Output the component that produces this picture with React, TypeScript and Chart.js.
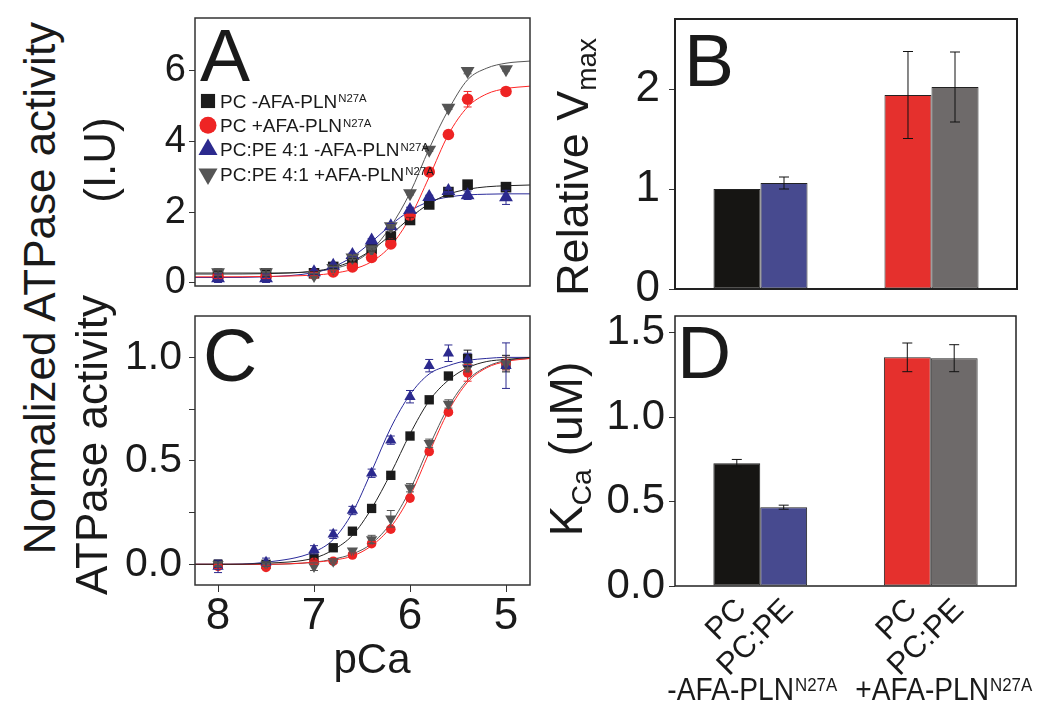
import { useEffect, useRef } from "react";
import { Chart, registerables } from "chart.js";
Chart.register(...registerables);

const FONT = '"Liberation Sans", Arial, Helvetica, sans-serif';
const INK = "#1a1a1a";

// measured pCa values (same for every condition)
const pCa = [8.0, 7.5, 7.0, 6.8, 6.6, 6.4, 6.2, 6.0, 5.8, 5.6, 5.4, 5.0];
const pCaTicks = [8, 7, 6, 5];
const fitPCa = [8.24, 8.0, 7.5, 7.0, 6.8, 6.6, 6.4, 6.2, 6.0, 5.8, 5.6, 5.4, 5.2, 5.0, 4.75];

const seriesNames = ["PC -AFA-PLN", "PC +AFA-PLN", "PC:PE 4:1 -AFA-PLN", "PC:PE 4:1 +AFA-PLN"];
const seriesSup = "N27A";

// panel A: ATPase activity (I.U)
const actBlack = [0.25, 0.27, 0.27, 0.45, 0.64, 0.95, 1.31, 1.78, 2.22, 2.57, 2.78, 2.71];
const actRed = [0.17, 0.17, 0.25, 0.31, 0.45, 0.72, 1.1, 1.92, 3.14, 4.2, 5.2, 5.42];
const actBlue = [0.13, 0.13, 0.3, 0.48, 0.79, 1.2, 1.6, 2.06, 2.43, 2.6, 2.48, 2.42];
const actGray = [0.3, 0.3, 0.22, 0.42, 0.72, 0.95, 1.6, 2.54, 3.77, 4.96, 6.0, 6.05];
const actBlackErr = [0.08, 0.08, 0.05, 0.05, 0.05, 0.05, 0.08, 0.08, 0.05, 0.05, 0.05, 0.05];
const actRedErr = [0.05, 0.05, 0.05, 0.05, 0.05, 0.05, 0.05, 0.05, 0.05, 0.08, 0.22, 0.08];
const actBlueErr = [0.12, 0.12, 0.05, 0.05, 0.05, 0.05, 0.08, 0.08, 0.05, 0.08, 0.12, 0.2];
const actGrayErr = [0.1, 0.1, 0.05, 0.05, 0.05, 0.05, 0.05, 0.05, 0.05, 0.05, 0.08, 0.05];
const actFitBlack = [0.25, 0.25, 0.26, 0.33, 0.43, 0.62, 0.93, 1.36, 1.84, 2.24, 2.51, 2.65, 2.72, 2.75, 2.77];
const actFitRed = [0.17, 0.17, 0.18, 0.22, 0.27, 0.38, 0.6, 1.05, 1.85, 3.0, 4.2, 4.98, 5.35, 5.5, 5.57];
const actFitBlue = [0.15, 0.15, 0.17, 0.29, 0.45, 0.74, 1.16, 1.64, 2.04, 2.3, 2.43, 2.49, 2.51, 2.52, 2.52];
const actFitGray = [0.28, 0.28, 0.28, 0.32, 0.4, 0.57, 0.93, 1.6, 2.55, 3.8, 4.9, 5.75, 6.08, 6.22, 6.28];
const actTicks = [0, 2, 4, 6];

// panel C: normalized activity
const normBlack = [0, 0, 0.03, 0.08, 0.16, 0.27, 0.43, 0.62, 0.795, 0.91, 0.995, 0.97];
const normRed = [-0.01, -0.015, 0.01, 0.015, 0.045, 0.1, 0.17, 0.32, 0.545, 0.735, 0.925, 0.97];
const normBlue = [-0.01, 0.01, 0.07, 0.145, 0.26, 0.44, 0.6, 0.81, 0.96, 1.02, 0.99, 0.96];
const normGray = [0, 0, -0.01, 0.015, 0.065, 0.12, 0.22, 0.37, 0.585, 0.775, 0.95, 0.97];
const normBlackErr = [0.02, 0.01, 0.01, 0.01, 0.01, 0.01, 0.01, 0.01, 0.01, 0.01, 0.04, 0.04];
const normRedErr = [0.01, 0.01, 0.01, 0.01, 0.01, 0.01, 0.01, 0.01, 0.01, 0.01, 0.04, 0.03];
const normBlueErr = [0.03, 0.02, 0.02, 0.02, 0.02, 0.02, 0.02, 0.03, 0.03, 0.04, 0.03, 0.11];
const normGrayErr = [0.01, 0.01, 0.02, 0.01, 0.01, 0.02, 0.04, 0.02, 0.02, 0.02, 0.02, 0.03];
const normFitBlack = [0, 0, 0.005, 0.03, 0.07, 0.14, 0.27, 0.44, 0.63, 0.79, 0.89, 0.95, 0.98, 0.99, 1.0];
const normFitRed = [0, 0, 0, 0.01, 0.02, 0.04, 0.09, 0.18, 0.33, 0.54, 0.74, 0.88, 0.95, 0.98, 0.995];
const normFitBlue = [0, 0, 0.01, 0.06, 0.12, 0.25, 0.45, 0.66, 0.82, 0.92, 0.96, 0.985, 0.995, 1.0, 1.0];
const normFitGray = [0, 0, 0, 0.01, 0.025, 0.05, 0.1, 0.2, 0.36, 0.57, 0.76, 0.89, 0.955, 0.985, 0.995];
const normTicks = [0, 0.25, 0.5, 0.75, 1.0];

// panels B and D: bar groups
const groups = ["-AFA-PLN", "+AFA-PLN"];
const barNames = ["PC", "PC:PE"];
const vmaxPC = [1.0, 1.94];
const vmaxPCPE = [1.06, 2.02];
const vmaxPCErr = [0, 0.435];
const vmaxPCPEErr = [0.06, 0.35];
const vmaxTicks = [0, 1, 2];
const kcaPC = [0.728, 1.355];
const kcaPCPE = [0.467, 1.35];
const kcaPCErr = [0.022, 0.085];
const kcaPCPEErr = [0.012, 0.08];
const kcaTicks = [0, 0.25, 0.5, 0.75, 1.0, 1.25, 1.5];

// styles
const pointStyles = ["rect", "circle", "triangle", "triangle"];
const pointRotations = [0, 0, 0, 180];
const markerColors = ["#1b1b1b", "#ee2424", "#2c2a8e", "#555555"];
const lineColors = ["#222222", "#ff2525", "#2a2a9a", "#555555"];
const pcColors = ["#161513", "#e5302d"];
const pcpeColors = ["#474a8f", "#6e6a6a"];

const frame = {
  id: "frame",
  afterDraw(chart: any, _a: any, opts: any) {
    const { ctx, chartArea: a } = chart;
    ctx.save();
    ctx.strokeStyle = opts.color;
    ctx.lineWidth = opts.width;
    ctx.strokeRect(a.left, a.top, a.right - a.left, a.bottom - a.top);
    ctx.restore();
  },
};

const errorBars = {
  id: "errorBars",
  afterDatasetsDraw(chart: any) {
    const { ctx } = chart;
    const y = chart.scales.y;
    chart.data.datasets.forEach((ds: any, i: number) => {
      if (!ds.errors) return;
      const meta = chart.getDatasetMeta(i);
      ctx.save();
      ctx.strokeStyle = ds.errorColor;
      ctx.lineWidth = 1;
      meta.data.forEach((el: any, j: number) => {
        const e = ds.errors[j];
        if (!e) return;
        const raw = ds.data[j];
        const v = typeof raw === "number" ? raw : raw.y;
        const t = y.getPixelForValue(v + e);
        const b = y.getPixelForValue(v - e);
        const c = ds.errorCap;
        ctx.beginPath();
        ctx.moveTo(el.x, t);
        ctx.lineTo(el.x, b);
        ctx.moveTo(el.x - c, t);
        ctx.lineTo(el.x + c, t);
        ctx.moveTo(el.x - c, b);
        ctx.lineTo(el.x + c, b);
        ctx.stroke();
      });
      ctx.restore();
    });
  },
};

function drawMarker(ctx: CanvasRenderingContext2D, style: string, rot: number, x: number, y: number, r: number) {
  ctx.beginPath();
  if (style === "rect") {
    const h = r * Math.SQRT1_2;
    ctx.rect(x - h, y - h, 2 * h, 2 * h);
  } else if (style === "circle") {
    ctx.arc(x, y, r, 0, Math.PI * 2);
  } else {
    const s = rot ? -1 : 1;
    ctx.moveTo(x, y - s * r);
    ctx.lineTo(x + r * 0.866, y + s * r * 0.5);
    ctx.lineTo(x - r * 0.866, y + s * r * 0.5);
    ctx.closePath();
  }
  ctx.fill();
}

// text with a raised superscript; sx squeezes it horizontally
function drawRich(
  ctx: CanvasRenderingContext2D,
  x: number,
  y: number,
  main: string,
  sup: string,
  size: number,
  sx = 1,
  measureOnly = false,
) {
  ctx.font = `${size}px ${FONT}`;
  const w = ctx.measureText(main).width;
  const ss = size * 0.6;
  ctx.font = `${ss}px ${FONT}`;
  const w2 = ctx.measureText(sup).width;
  if (!measureOnly) {
    ctx.save();
    ctx.translate(x, y);
    ctx.scale(sx, 1);
    ctx.font = `${size}px ${FONT}`;
    ctx.fillText(main, 0, 0);
    ctx.font = `${ss}px ${FONT}`;
    ctx.fillText(sup, w + 1, -size * 0.716 + ss * 0.716);
    ctx.restore();
  }
  return (w + 1 + w2) * sx;
}

const markerLegend = {
  id: "markerLegend",
  afterDraw(chart: any, _a: any, opts: any) {
    if (!opts.show) return;
    const { ctx, chartArea: a } = chart;
    ctx.save();
    let row = 0;
    chart.data.datasets.forEach((ds: any) => {
      if (!ds.legendText) return;
      const cy = a.top + opts.dy + row * opts.step;
      ctx.fillStyle = ds.backgroundColor;
      drawMarker(ctx, ds.pointStyle, ds.pointRotation, a.left + opts.dx, cy, ds.legendRadius);
      ctx.fillStyle = INK;
      ctx.textAlign = "left";
      ctx.textBaseline = "alphabetic";
      drawRich(ctx, a.left + opts.tx, cy + opts.size * 0.36, ds.legendText, seriesSup, opts.size);
      row++;
    });
    ctx.restore();
  },
};

const barLabels = {
  id: "barLabels",
  afterDraw(chart: any, _a: any, opts: any) {
    if (!opts.show) return;
    const { ctx, chartArea: a } = chart;
    const xs = chart.scales.x;
    ctx.save();
    ctx.fillStyle = INK;
    chart.data.datasets.forEach((ds: any, i: number) => {
      const meta = chart.getDatasetMeta(i);
      meta.data.forEach((el: any) => {
        ctx.save();
        ctx.translate(el.x + opts.shift, a.bottom + opts.drop);
        ctx.rotate(-Math.PI / 4);
        ctx.font = `${opts.size}px ${FONT}`;
        ctx.textAlign = "right";
        ctx.textBaseline = "middle";
        ctx.fillText(ds.label, 0, 0);
        ctx.restore();
      });
    });
    ctx.textAlign = "left";
    ctx.textBaseline = "alphabetic";
    chart.data.labels.forEach((lab: string, i: number) => {
      const cx = xs.getPixelForValue(i) + (i === 0 ? opts.shiftL : opts.shiftR);
      const w = drawRich(ctx, 0, 0, lab, seriesSup, opts.groupSize, opts.squeeze, true);
      drawRich(ctx, cx - w / 2, a.bottom + opts.groupDrop, lab, seriesSup, opts.groupSize, opts.squeeze);
    });
    ctx.restore();
  },
};

const fixedTicks = (vals: number[]) => (scale: any) => {
  scale.ticks = vals.map((value) => ({ value }));
};
const isHalf = (v: number) => Math.abs(v * 2 - Math.round(v * 2)) < 1e-6;
const fixWidth = (w: number) => (s: any) => {
  s.width = w;
  s.paddingTop = 0;
  s.paddingBottom = 0;
};
const fixHeight = (h: number) => (s: any) => {
  s.height = h;
  s.paddingLeft = 0;
  s.paddingRight = 0;
};

function curveConfig(p: {
  points: number[][];
  errors: number[][];
  fits: number[][];
  sizes: number[];
  yMin: number;
  yMax: number;
  yTicks: number[];
  yFont: number;
  yPad: number;
  yLabel: (v: number) => string;
  showX: boolean;
  xHeight: number;
  top: number;
  legend: boolean;
}) {
  const lines = p.fits.map((f, i) => ({
    type: "line",
    data: f.map((y, j) => ({ x: fitPCa[j], y })),
    borderColor: lineColors[i],
    borderWidth: 1,
    pointRadius: 0,
    fill: false,
    cubicInterpolationMode: "monotone",
    order: 10,
  }));
  const pts = p.points.map((vals, i) => ({
    type: "scatter",
    data: vals.map((y, j) => ({ x: pCa[j], y })),
    backgroundColor: markerColors[i],
    borderColor: markerColors[i],
    borderWidth: 0,
    pointStyle: pointStyles[i],
    pointRotation: pointRotations[i],
    pointRadius: p.sizes[i],
    errors: p.errors[i],
    errorColor: markerColors[i],
    errorCap: 4,
    legendText: seriesNames[i],
    legendRadius: [10, 8.5, 11, 11][i],
    order: 4 - i,
  }));
  return {
    type: "scatter",
    data: { datasets: [...lines, ...pts] },
    options: {
      animation: false,
      responsive: true,
      maintainAspectRatio: false,
      layout: { padding: { top: p.top, right: 10, left: 0, bottom: 0 } },
      plugins: {
        legend: { display: false },
        tooltip: { enabled: false },
        frame: { color: "#333", width: 1.5 },
        markerLegend: { show: p.legend, dx: 13, tx: 25, dy: 83, step: 24.3, size: 19 },
      },
      scales: {
        x: {
          type: "linear",
          reverse: true,
          min: 4.75,
          max: 8.24,
          afterBuildTicks: fixedTicks(pCaTicks),
          afterFit: fixHeight(p.xHeight),
          grid: { display: p.showX, drawOnChartArea: false, tickLength: 7, color: "#333" },
          border: { display: false },
          ticks: {
            display: p.showX,
            font: { family: FONT, size: 44 },
            color: INK,
            padding: -2,
            callback: (v: any) => String(v),
          },
        },
        y: {
          min: p.yMin,
          max: p.yMax,
          afterBuildTicks: fixedTicks(p.yTicks),
          afterFit: fixWidth(85),
          grid: { drawOnChartArea: false, tickLength: 6, color: "#333" },
          border: { display: false },
          ticks: {
            font: { family: FONT, size: p.yFont },
            color: INK,
            padding: p.yPad,
            callback: (v: any) => p.yLabel(Number(v)),
          },
        },
      },
    },
    plugins: [frame, errorBars, markerLegend],
  };
}

function barConfig(p: {
  pc: number[];
  pcpe: number[];
  pcErr: number[];
  pcpeErr: number[];
  yMax: number;
  yTicks: number[];
  yFont: number;
  yPad: number;
  yLabel: (v: number) => string;
  xHeight: number;
  top: number;
  right: number;
  frameWidth: number;
  labels: boolean;
}) {
  const common = {
    borderColor: "#222",
    borderWidth: 1,
    borderSkipped: false,
    categoryPercentage: 0.55,
    barPercentage: 1,
    errorColor: "#111",
    errorCap: 5,
  };
  return {
    type: "bar",
    data: {
      labels: groups,
      datasets: [
        { ...common, label: barNames[0], data: p.pc, backgroundColor: pcColors, errors: p.pcErr },
        { ...common, label: barNames[1], data: p.pcpe, backgroundColor: pcpeColors, errors: p.pcpeErr },
      ],
    },
    options: {
      animation: false,
      responsive: true,
      maintainAspectRatio: false,
      layout: { padding: { top: p.top, right: p.right, left: 0, bottom: 0 } },
      plugins: {
        legend: { display: false },
        tooltip: { enabled: false },
        frame: { color: "#222", width: p.frameWidth },
        barLabels: {
          show: p.labels,
          shift: 5,
          drop: 19,
          size: 31,
          groupSize: 32,
          squeeze: 0.88,
          groupDrop: 114,
          shiftL: -8,
          shiftR: 13,
        },
      },
      scales: {
        x: {
          grid: { display: false },
          border: { display: false },
          ticks: { display: false },
          afterFit: fixHeight(p.xHeight),
        },
        y: {
          min: 0,
          max: p.yMax,
          afterBuildTicks: fixedTicks(p.yTicks),
          afterFit: fixWidth(115),
          grid: { drawOnChartArea: false, tickLength: 6, color: "#333" },
          border: { display: false },
          ticks: {
            font: { family: FONT, size: p.yFont },
            color: INK,
            padding: p.yPad,
            callback: (v: any) => p.yLabel(Number(v)),
          },
        },
      },
    },
    plugins: [frame, errorBars, barLabels],
  };
}

function Panel({ box, make }: { box: any; make: () => any }) {
  const canvasRef = useRef<HTMLCanvasElement>(null);
  useEffect(() => {
    if (!canvasRef.current) return;
    const chart = new Chart(canvasRef.current, make());
    return () => chart.destroy();
  }, []);
  return (
    <div style={{ position: "absolute", ...box }}>
      <canvas ref={canvasRef} />
    </div>
  );
}

const text = (s: any) => ({
  position: "absolute" as const,
  fontFamily: FONT,
  color: INK,
  lineHeight: 1,
  whiteSpace: "nowrap" as const,
  ...s,
});
const vertical = (cx: number, cy: number, size: number) =>
  text({ left: cx, top: cy, fontSize: size, transform: "translate(-50%, -50%) rotate(-90deg)" });
const subStyle = { fontSize: "0.62em", position: "relative" as const, top: "0.3em" };

export default function App() {
  return (
    <div style={{ position: "absolute", left: 0, top: 0, width: 1050, height: 723, background: "#fff", overflow: "hidden" }}>
      <Panel
        box={{ left: 110, top: 0, width: 430, height: 300 }}
        make={() =>
          curveConfig({
            points: [actBlack, actRed, actBlue, actGray],
            errors: [actBlackErr, actRedErr, actBlueErr, actGrayErr],
            fits: [actFitBlack, actFitRed, actFitBlue, actFitGray],
            sizes: [7.5, 5.8, 8, 8],
            yMin: -0.09,
            yMax: 7.5,
            yTicks: actTicks,
            yFont: 38,
            yPad: 3,
            yLabel: (v) => String(v),
            showX: false,
            xHeight: 14,
            top: 18,
            legend: true,
          })
        }
      />
      <Panel
        box={{ left: 110, top: 300, width: 430, height: 340 }}
        make={() =>
          curveConfig({
            points: [normBlack, normRed, normBlue, normGray],
            errors: [normBlackErr, normRedErr, normBlueErr, normGrayErr],
            fits: [normFitBlack, normFitRed, normFitBlue, normFitGray],
            sizes: [6.6, 4.8, 6.5, 6.5],
            yMin: -0.1,
            yMax: 1.2,
            yTicks: normTicks,
            yFont: 41,
            yPad: 7,
            yLabel: (v) => (isHalf(v) ? v.toFixed(1) : ""),
            showX: true,
            xHeight: 55,
            top: 16,
            legend: false,
          })
        }
      />
      <Panel
        box={{ left: 560, top: 0, width: 480, height: 310 }}
        make={() =>
          barConfig({
            pc: vmaxPC,
            pcpe: vmaxPCPE,
            pcErr: vmaxPCErr,
            pcpeErr: vmaxPCPEErr,
            yMax: 2.7,
            yTicks: vmaxTicks,
            yFont: 44,
            yPad: 9,
            yLabel: (v) => String(v),
            xHeight: 21,
            top: 19,
            right: 23,
            frameWidth: 2,
            labels: false,
          })
        }
      />
      <Panel
        box={{ left: 560, top: 300, width: 480, height: 420 }}
        make={() =>
          barConfig({
            pc: kcaPC,
            pcpe: kcaPCPE,
            pcErr: kcaPCErr,
            pcpeErr: kcaPCPEErr,
            yMax: 1.6,
            yTicks: kcaTicks,
            yFont: 42,
            yPad: 4,
            yLabel: (v) => (isHalf(v) ? v.toFixed(1) : ""),
            xHeight: 134,
            top: 16,
            right: 24,
            frameWidth: 1.5,
            labels: true,
          })
        }
      />

      <div style={vertical(40, 288, 44)}>Normalized ATPase activity</div>
      <div style={vertical(100, 160, 44)}>(I.U)</div>
      <div style={vertical(92, 445, 44)}>ATPase activity</div>
      <div style={text({ left: 372, top: 659, fontSize: 42, transform: "translate(-50%, -50%)" })}>pCa</div>
      <div style={vertical(572, 167, 45)}>
        Relative V<span style={subStyle}>max</span>
      </div>
      <div style={vertical(566, 449, 46)}>
        K<span style={subStyle}>Ca</span> (uM)
      </div>

      <div style={text({ left: 200, top: 18, fontSize: 75 })}>A</div>
      <div style={text({ left: 684, top: 23, fontSize: 75 })}>B</div>
      <div style={text({ left: 203, top: 318, fontSize: 75 })}>C</div>
      <div style={text({ left: 677, top: 315, fontSize: 75 })}>D</div>
    </div>
  );
}
